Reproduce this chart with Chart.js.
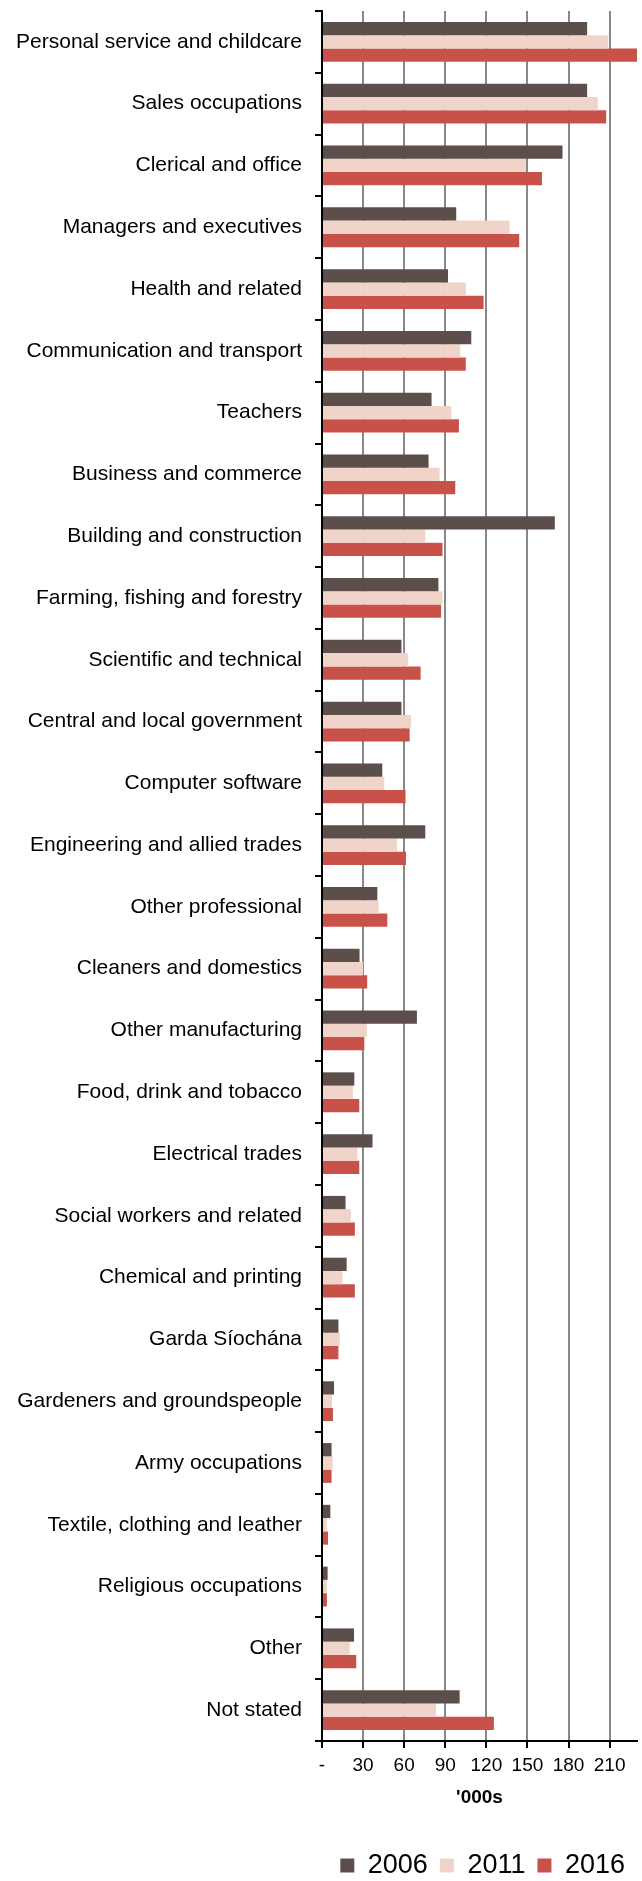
<!DOCTYPE html>
<html>
<head>
<meta charset="utf-8">
<script src="https://cdn.jsdelivr.net/npm/chart.js@4"></script>
<style>
  html, body { margin: 0; padding: 0; background: #fff; }
  #wrap { width: 642px; height: 1881px; }
</style>
</head>
<body>
<div id="wrap"><canvas id="grafico"></canvas></div>
<script>
const categorias = ['Personal service and childcare', 'Sales occupations', 'Clerical and office',
    'Managers and executives', 'Health and related', 'Communication and transport', 'Teachers',
    'Business and commerce', 'Building and construction', 'Farming, fishing and forestry',
    'Scientific and technical', 'Central and local government', 'Computer software',
    'Engineering and allied trades', 'Other professional', 'Cleaners and domestics',
    'Other manufacturing', 'Food, drink and tobacco', 'Electrical trades', 'Social workers and related',
    'Chemical and printing', 'Garda Síochána', 'Gardeners and groundspeople', 'Army occupations',
    'Textile, clothing and leather', 'Religious occupations', 'Other', 'Not stated'];

const v2006 = [193.6, 193.6, 175.6, 98, 92, 109, 80, 77.8, 170, 85, 58, 58, 44, 75.4, 40.4, 27.4,
    69.3, 23.6, 36.9, 17.2, 18, 12, 8.8, 7, 6.1, 4.1, 23.4, 100.5];
const v2011 = [209, 201.4, 148.9, 137, 105, 101, 94.5, 85.9, 75.4, 88, 63, 65, 45.5, 54.7, 41.3, 30,
    32.8, 22.6, 25.8, 21, 15, 13, 7.3, 7.8, 3.5, 3.6, 20.2, 83.2];
const v2016 = [236, 207.5, 160.6, 144, 118, 105, 100, 97.3, 88, 87, 72, 64, 61, 61.3, 47.7, 33,
    30.9, 27.2, 27.2, 24, 24, 12, 8, 7, 4.4, 3.6, 25, 125.5];

const anos = ['2006', '2011', '2016'];
const marcasX = [0, 30, 60, 90, 120, 150, 180, 210];
const eixoMax = 230;

const fonte = 'Liberation Sans, Arial, sans-serif';

new Chart(document.getElementById('grafico'), {
    type: 'bar',
    data: {
        labels: categorias,
        datasets: [
            { label: anos[0], data: v2006, backgroundColor: '#5c4f4b', borderWidth: 0 },
            { label: anos[1], data: v2011, backgroundColor: '#f0d4ca', borderWidth: 0 },
            { label: anos[2], data: v2016, backgroundColor: '#c8524a', borderWidth: 0 }
        ]
    },
    options: {
        indexAxis: 'y',
        responsive: true,
        maintainAspectRatio: false,
        animation: false,
        datasets: {
            bar: { categoryPercentage: 0.644, barPercentage: 1.0 }
        },
        layout: { padding: { top: 11, right: 5, left: 0, bottom: -8 } },
        plugins: {
            tooltip: { enabled: false },
            legend: {
                position: 'bottom',
                align: 'end',
                labels: {
                    boxWidth: 14,
                    boxHeight: 14,
                    padding: 12,
                    color: '#000',
                    font: { family: fonte, size: 27 }
                }
            }
        },
        scales: {
            x: {
                min: 0,
                max: eixoMax,
                afterBuildTicks: function(s){
                    s.ticks = marcasX.map(v => ({ value: v }));
                },
                afterFit: function(s){ s.height = 99; },
                border: { color: '#000', width: 2 },
                grid: {
                    color: (c) => (c.tick && c.tick.value === 0) ? 'rgba(0,0,0,0)' : '#888',
                    tickColor: '#000',
                    lineWidth: 2,
                    tickWidth: 2,
                    tickLength: 7
                },
                ticks: {
                    padding: 6,
                    color: '#000',
                    font: { family: fonte, size: 19 },
                    maxRotation: 0,
                    autoSkip: false,
                    callback: function(v){
                        return v === 0 ? '-' : v;
                    }
                },
                title: {
                    display: true,
                    text: "'000s",
                    color: '#000',
                    font: { family: fonte, size: 19, weight: 'bold' },
                    padding: { top: 0, bottom: 31 }
                }
            },
            y: {
                afterFit: function(s){
                    s.width = 322;
                    s.paddingTop = 0;
                    s.paddingBottom = 0;
                },
                border: { color: '#000', width: 2 },
                grid: {
                    drawOnChartArea: false,
                    color: '#000',
                    lineWidth: 2,
                    tickLength: 7
                },
                ticks: {
                    padding: 13,
                    color: '#000',
                    autoSkip: false,
                    font: { family: fonte, size: 21 }
                }
            }
        }
    }
});
</script>
</body>
</html>
